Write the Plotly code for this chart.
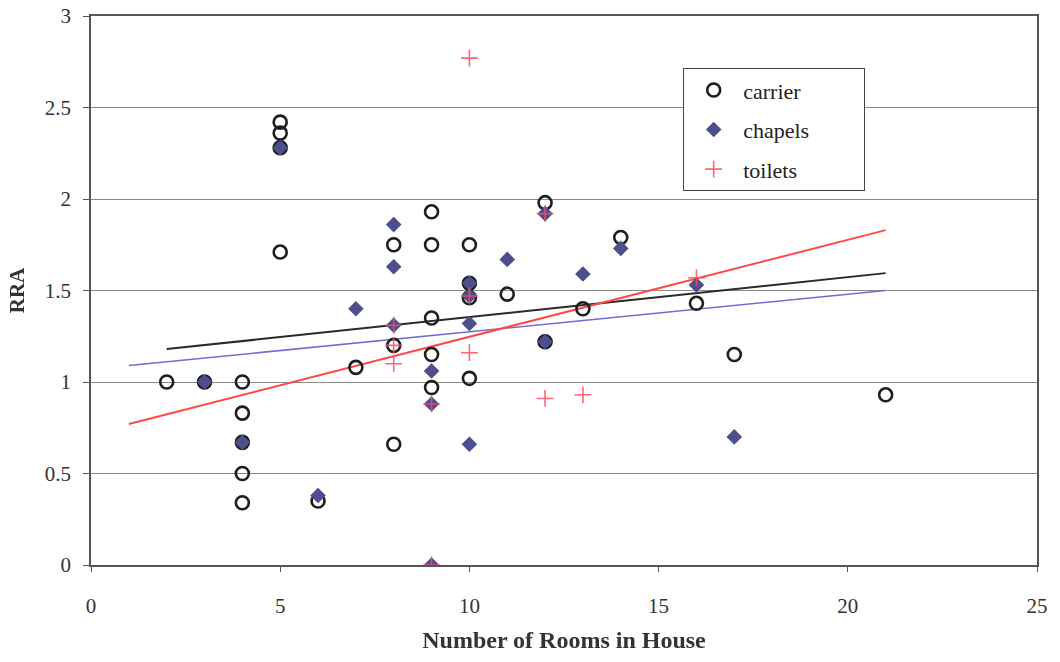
import plotly.graph_objects as go

# ---- data ----
carrier_x = [2, 3, 4, 4, 4, 4, 4, 5, 5, 5, 5, 6, 7, 8, 8, 8, 9, 9, 9, 9, 9,
             10, 10, 10, 10, 11, 12, 12, 13, 14, 16, 17, 21]
carrier_y = [1.0, 1.0, 1.0, 0.83, 0.67, 0.5, 0.34, 2.42, 2.36, 2.28, 1.71, 0.35, 1.08,
             1.75, 1.2, 0.66, 1.93, 1.75, 1.35, 1.15, 0.97,
             1.75, 1.54, 1.46, 1.02, 1.48, 1.98, 1.22, 1.40, 1.79, 1.43, 1.15, 0.93]

chapels_x = [3, 4, 5, 6, 7, 8, 8, 8, 9, 9, 9, 10, 10, 10, 10, 11, 12, 12, 13, 14, 16, 17]
chapels_y = [1.0, 0.67, 2.28, 0.38, 1.40, 1.86, 1.63, 1.31, 1.06, 0.88, 0.0,
             1.54, 1.32, 0.66, 1.47, 1.67, 1.22, 1.92, 1.59, 1.73, 1.53, 0.70]

toilets_x = [10, 8, 8, 8, 9, 9, 10, 10, 12, 12, 13, 16]
toilets_y = [2.77, 1.10, 1.20, 1.31, 0.88, 0.0, 1.16, 1.47, 0.91, 1.92, 0.93, 1.57]

# linear trend lines (start/end of each fitted line)
trend_carrier_x = [2, 21]
trend_carrier_y = [1.18, 1.595]
trend_chapels_x = [1, 21]
trend_chapels_y = [1.09, 1.50]
trend_toilets_x = [1, 21]
trend_toilets_y = [0.77, 1.83]

x_ticks = [0, 5, 10, 15, 20, 25]
y_ticks = [0, 0.5, 1, 1.5, 2, 2.5, 3]
legend_names = ["carrier", "chapels", "toilets"]

FONT = "Liberation Serif, Times New Roman, serif"
PAD = "\u00a0" * 9

fig = go.Figure()

# trend lines
fig.add_trace(go.Scatter(x=trend_chapels_x, y=trend_chapels_y, mode="lines",
                         line=dict(color="#6F6FD0", width=1.5), showlegend=False, hoverinfo="skip"))
fig.add_trace(go.Scatter(x=trend_carrier_x, y=trend_carrier_y, mode="lines",
                         line=dict(color="#2A2A2A", width=2), showlegend=False, hoverinfo="skip"))
fig.add_trace(go.Scatter(x=trend_toilets_x, y=trend_toilets_y, mode="lines",
                         line=dict(color="#FF4848", width=2), showlegend=False, hoverinfo="skip"))

# points
fig.add_trace(go.Scatter(x=carrier_x, y=carrier_y, mode="markers", name=legend_names[0] + PAD,
                         marker=dict(symbol="circle-open", size=13, color="#1E1E1E",
                                     line=dict(width=2.6, color="#1E1E1E")),
                         legendgroup="a"))
fig.add_trace(go.Scatter(x=chapels_x, y=chapels_y, mode="markers", name=legend_names[1] + PAD,
                         marker=dict(symbol="diamond", size=12, color="#4E4E8E",
                                     line=dict(width=0)),
                         legendgroup="b"))
fig.add_trace(go.Scatter(x=toilets_x, y=toilets_y, mode="markers", name=legend_names[2] + PAD,
                         marker=dict(symbol="cross-thin-open", size=12, color="#FF4A5A",
                                     line=dict(width=1.6, color="#FF4A5A")),
                         opacity=0.85, legendgroup="c"))

fig.update_layout(
    width=1060, height=662,
    margin=dict(l=91, r=23, t=16, b=97),
    paper_bgcolor="white", plot_bgcolor="white",
    font=dict(family=FONT, size=21, color="#333333"),
    legend=dict(x=0.626, y=0.905, xanchor="left", yanchor="top",
                bgcolor="white", bordercolor="#444444", borderwidth=1,
                font=dict(family=FONT, size=22, color="#222222"),
                tracegroupgap=8, itemwidth=49),
    xaxis=dict(range=[0, 25], tickvals=x_ticks, showgrid=False, zeroline=False,
               showline=True, linecolor="#555555", linewidth=1.5, mirror=True,
               ticks="outside", ticklen=5, tickcolor="#555555", ticklabelstandoff=16,
               automargin=False,
               tickfont=dict(family=FONT, size=21, color="#333333"),
               title=dict(text="<b>Number of Rooms in House</b>",
                          font=dict(family=FONT, size=24, color="#333333"), standoff=14)),
    yaxis=dict(range=[0, 3], tickvals=y_ticks, showgrid=True, gridcolor="#8A8A8A", gridwidth=1,
               zeroline=False, showline=True, linecolor="#555555", linewidth=1.5, mirror=True,
               ticks="outside", ticklen=6, tickcolor="#555555", ticklabelstandoff=8,
               automargin=False,
               tickfont=dict(family=FONT, size=21, color="#333333"),
               title=dict(text="<b>RRA</b>",
                          font=dict(family=FONT, size=21, color="#333333"), standoff=14)),
)

fig.write_html("out.html", config={"displayModeBar": False},
               post_script="document.body.style.margin='0px';")
